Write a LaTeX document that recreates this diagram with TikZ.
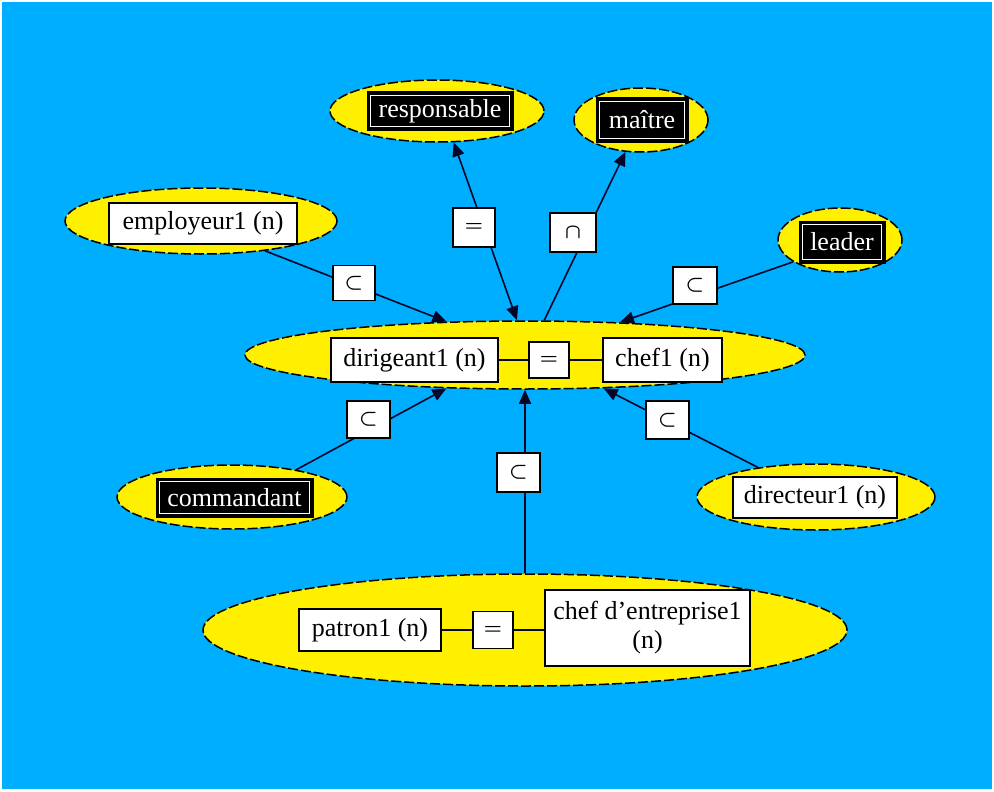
\documentclass[tikz,border=0pt]{standalone}
\usepackage{fontspec}
\setmainfont{Liberation Serif}
\usetikzlibrary{arrows.meta,shapes.geometric}
\definecolor{bgblue}{RGB}{0,174,255}
\definecolor{ylw}{RGB}{255,240,0}
\definecolor{lnc}{RGB}{5,5,40}
\begin{document}
\begin{tikzpicture}[x=1pt,y=-1pt,
  every node/.style={font=\fontsize{26}{29}\selectfont},
  ell/.style={ellipse, fill=ylw, draw=black, line width=1.5pt, dash pattern=on 10pt off 3pt, inner sep=0pt},
  wbox/.style={rectangle, fill=white, draw=black, line width=1.6pt, inner sep=0pt, align=center},
  bbox/.style={rectangle, fill=black, draw=black, line width=1pt, text=white, inner sep=0pt,
    path picture={\draw[white,line width=1.5pt] ([shift={(3.5pt,3.5pt)}]path picture bounding box.south west) rectangle ([shift={(-3.5pt,-3.5pt)}]path picture bounding box.north east);}},
  sym/.style={wbox, font=\fontsize{22}{26}\selectfont\boldmath},
  conn/.style={draw=lnc, line width=1.6pt},
  arr/.style={-{Triangle[length=14pt,width=12pt]}},
  arrb/.style={{Triangle[length=14pt,width=12pt]}-{Triangle[length=14pt,width=12pt]}},
  ]
\useasboundingbox (0,0) rectangle (994,792);
\fill[white] (0,0) rectangle (994,792);
\fill[bgblue] (2,2) rectangle (992,789);

% ellipses
\node[ell, minimum width=214pt, minimum height=62pt] (resp) at (437,111) {};
\node[ell, minimum width=134pt, minimum height=64pt] (mait) at (641,120) {};
\node[ell, minimum width=272pt, minimum height=66pt] (emp) at (201,221) {};
\node[ell, minimum width=124pt, minimum height=64pt] (lead) at (840,240) {};
\node[ell, minimum width=560pt, minimum height=68pt] (cen) at (525,355) {};
\node[ell, minimum width=230pt, minimum height=64pt] (cmd) at (232,497) {};
\node[ell, minimum width=238pt, minimum height=66pt] (dir) at (816,497) {};
\node[ell, minimum width=644pt, minimum height=112pt] (pat) at (525,630) {};

% connectors
\draw[conn, arr] (emp.-25) -- (cen.157.6);
\draw[conn, arrb] (cen.103.6) -- (resp.-62.7);
\draw[conn, arr] (cen.61.4) -- (mait.-116.6);
\draw[conn, arr] (lead.205) -- (cen.19);
\draw[conn, arr] (cmd.23.3) -- (cen.203.7);
\draw[conn, arr] (dir.153.8) -- (cen.-23.2);
\draw[conn, arr] (pat.north) -- (cen.south);

% word boxes
\node[bbox, minimum width=146pt, minimum height=38pt] (respb) at (440,111) {responsable};
\node[bbox, minimum width=92pt, minimum height=44pt] (maitb) at (642,120) {maître};
\node[bbox, minimum width=86pt, minimum height=42pt] (leadb) at (842,242) {leader};
\node[bbox, minimum width=157pt, minimum height=39pt] (cmdb) at (234.5,497.5) {commandant};
\node[wbox, minimum width=188pt, minimum height=41pt] (empb) at (203,223.5) {employeur1 (n)};
\node[wbox, minimum width=164pt, minimum height=41pt] (dirb) at (815,497.5) {directeur1 (n)};
\node[wbox, minimum width=167pt, minimum height=44pt] (digb) at (414.5,360) {dirigeant1 (n)};
\node[sym, minimum width=40pt, minimum height=36pt] (eqa) at (549,360) {$=$};
\node[wbox, minimum width=119pt, minimum height=44pt] (chefb) at (662.5,360) {chef1 (n)};
\node[wbox, minimum width=142pt, minimum height=42pt] (patb) at (370,630) {patron1 (n)};
\node[sym, minimum width=40pt, minimum height=37pt] (eqb) at (493,630) {$=$};
\node[wbox, minimum width=205pt, minimum height=76pt] (chefe) at (647.5,628) {chef d'entreprise1\\(n)};

% relation label boxes
\node[sym, minimum width=42pt, minimum height=35pt] (r1) at (354,283) {$\subset$};
\node[sym, minimum width=42pt, minimum height=39pt] (r2) at (474,227.5) {$=$};
\node[sym, minimum width=46pt, minimum height=39pt] (r3) at (573,232.5) {$\cap$};
\node[sym, minimum width=44pt, minimum height=37pt] (r4) at (695,285.5) {$\subset$};
\node[sym, minimum width=43pt, minimum height=37pt] (r5) at (368.5,419.5) {$\subset$};
\node[sym, minimum width=43pt, minimum height=38pt] (r6) at (667.5,420) {$\subset$};
\node[sym, minimum width=43pt, minimum height=39pt] (r7) at (518.5,472.5) {$\subset$};

% inner connectors
\draw[conn] (digb.east) -- (eqa.west);
\draw[conn] (eqa.east) -- (chefb.west);
\draw[conn] (patb.east) -- (eqb.west);
\draw[conn] (eqb.east) -- (eqb.east -| chefe.west);
\end{tikzpicture}
\end{document}
